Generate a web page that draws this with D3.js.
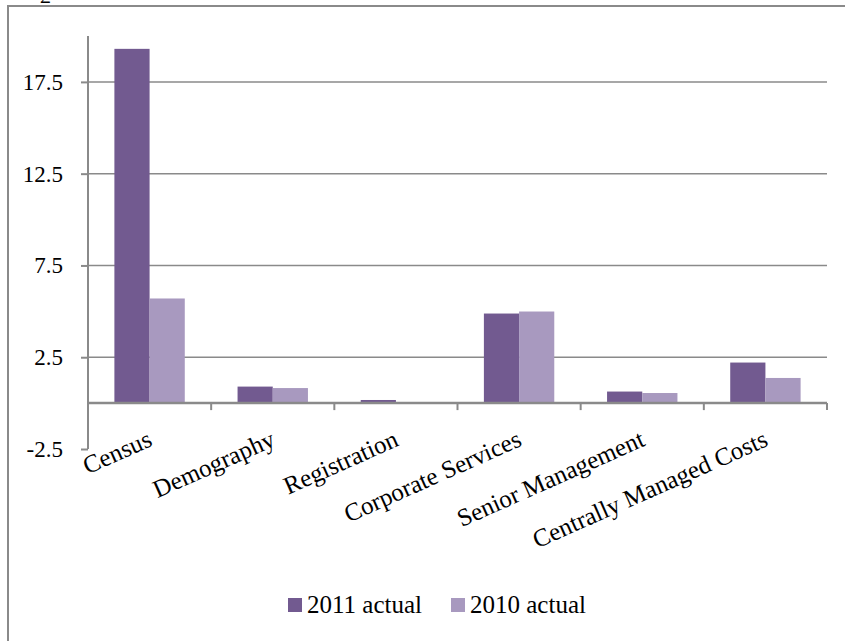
<!DOCTYPE html>
<html>
<head>
<meta charset="utf-8">
<script src="https://cdn.jsdelivr.net/npm/d3@7"></script>
<style>
    body { margin: 0; background: #fff; }
    svg { display: block; }
    text { font-family: "Liberation Serif", "DejaVu Serif", serif; fill: #000; }
</style>
</head>
<body>
<div id="chart"></div>
<script>
"use strict";

// values (£m)
var categories = ["Census", "Demography", "Registration", "Corporate Services",
    "Senior Management", "Centrally Managed Costs"];
var seriesNames = ["2011 actual", "2010 actual"];
var actual2011 = [19.3, 0.9, 0.17, 4.88, 0.63, 2.21];
var actual2010 = [5.7, 0.82, -0.04, 4.99, 0.55, 1.37];
var yTicks = [-2.5, 2.5, 7.5, 12.5, 17.5];
var yDomain = [-2.5, 20];
var unitLabel = "£";

var colors = ["#725a90", "#a899bf"];

var WIDTH = 845, HEIGHT = 641;
var PLOT = { left: 88, right: 827, top: 36, bottom: 449 };

var svg = d3.select("#chart").append("svg")
    .attr("width", WIDTH)
    .attr("height", HEIGHT);

// outer frame, cut off at right and bottom like the source
svg.append("rect")
    .attr("x", 8)
    .attr("y", 6)
    .attr("width", 860)
    .attr("height", 660)
    .attr("fill", "none")
    .attr("stroke", "#8a8a8a")
    .attr("stroke-width", 2);

// unit label, mostly above the top edge in the source
svg.append("text")
    .attr("x", 45)
    .attr("y", 3)
    .attr("text-anchor", "middle")
    .style("font-size", "22px")
    .text(unitLabel);

var y = d3.scaleLinear()
    .domain(yDomain)
    .range([PLOT.bottom, PLOT.top]);

var x0 = d3.scaleBand()
    .domain(categories)
    .range([PLOT.left, PLOT.right])
    .padding(0);

var x1 = d3.scaleBand()
    .domain(seriesNames)
    .range([0, x0.bandwidth()])
    .paddingInner(0)
    .paddingOuter(0.75);

// gridlines
svg.append("g")
    .attr("class", "grid")
    .selectAll("line")
    .data(yTicks.filter(function(d) {
        return d > yDomain[0];
    }))
    .enter().append("line")
    .attr("x1", PLOT.left)
    .attr("x2", PLOT.right)
    .attr("y1", function(d) {
        return y(d);
    })
    .attr("y2", function(d) {
        return y(d);
    })
    .attr("stroke", "#8a8a8a")
    .attr("stroke-width", 1.5);

// bars
var rows = categories.map(function(c, i) {
    return { category: c, values: [actual2011[i], actual2010[i]] };
});

var groups = svg.append("g")
    .attr("class", "bars")
    .selectAll("g")
    .data(rows)
    .enter().append("g")
    .attr("transform", function(d) {
        return "translate(" + x0(d.category) + ",0)";
    });

groups.selectAll("rect")
    .data(function(d) {
        return d.values.map(function(v, j) {
            return { name: seriesNames[j], value: v, color: colors[j] };
        });
    })
    .enter().append("rect")
    .attr("x", function(d) {
        return x1(d.name);
    })
    .attr("width", x1.bandwidth())
    .attr("y", function(d) {
        return y(Math.max(0, d.value));
    })
    .attr("height", function(d) {
        return Math.abs(y(d.value) - y(0));
    })
    .attr("fill", function(d) {
        return d.color;
    });

// y axis
var yAxis = d3.axisLeft(y)
    .tickValues(yTicks)
    .tickSize(7)
    .tickPadding(18)
    .tickFormat(function(d) {
        return String(d);
    });

var yAxisG = svg.append("g")
    .attr("transform", "translate(" + PLOT.left + ",0)")
    .call(yAxis);
yAxisG.select(".domain").remove();
yAxisG.selectAll(".tick line")
    .attr("stroke", "#8a8a8a")
    .attr("stroke-width", 2);
yAxisG.selectAll(".tick text")
    .style("font-family", "Liberation Serif, serif")
    .style("font-size", "23px")
    .attr("fill", "#000");

svg.append("line")
    .attr("x1", PLOT.left)
    .attr("x2", PLOT.left)
    .attr("y1", PLOT.top)
    .attr("y2", PLOT.bottom)
    .attr("stroke", "#8a8a8a")
    .attr("stroke-width", 2);

// category axis along zero
svg.append("line")
    .attr("x1", PLOT.left)
    .attr("x2", PLOT.right)
    .attr("y1", y(0))
    .attr("y2", y(0))
    .attr("stroke", "#8a8a8a")
    .attr("stroke-width", 2.5);

svg.append("g")
    .selectAll("line")
    .data(categories)
    .enter().append("line")
    .attr("x1", function(d) {
        return x0(d) + x0.bandwidth();
    })
    .attr("x2", function(d) {
        return x0(d) + x0.bandwidth();
    })
    .attr("y1", y(0))
    .attr("y2", y(0) + 7)
    .attr("stroke", "#8a8a8a")
    .attr("stroke-width", 2);

svg.append("g")
    .attr("class", "cat-labels")
    .selectAll("text")
    .data(categories)
    .enter().append("text")
    .attr("transform", function(d) {
        var cx = x0(d) + x0.bandwidth() / 2 + 4;
        return "translate(" + cx + "," + (y(0) + 42) + ") rotate(-24)";
    })
    .attr("text-anchor", "end")
    .style("font-size", "25px")
    .text(function(d) {
        return d;
    });

// legend
var legendX = [288, 451];
var legend = svg.append("g")
    .attr("class", "legend")
    .selectAll("g")
    .data(seriesNames)
    .enter().append("g")
    .attr("transform", function(d, i) {
        return "translate(" + legendX[i] + ",598)";
    });

legend.append("rect")
    .attr("width", 14)
    .attr("height", 14)
    .attr("fill", function(d, i) {
        return colors[i];
    });

legend.append("text")
    .attr("x", 19)
    .attr("y", 15)
    .style("font-size", "25px")
    .text(function(d) {
        return d;
    });
</script>
</body>
</html>
